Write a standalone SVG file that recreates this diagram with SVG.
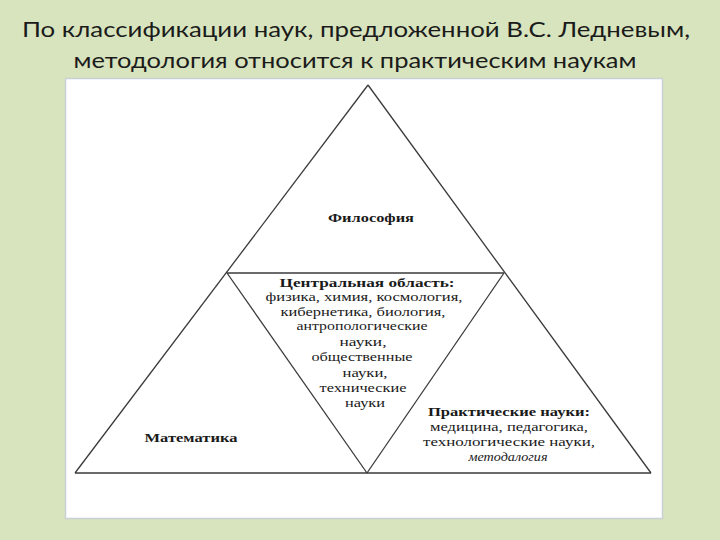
<svg xmlns="http://www.w3.org/2000/svg" width="720" height="540" viewBox="0 0 720 540">
<style>
.title{font-family:Lato,"Open Sans","Liberation Sans",sans-serif;font-size:22px;fill:#1b1b1b;text-anchor:middle}
.t{font-family:"Liberation Serif","DejaVu Serif",serif;font-size:13px;fill:#1a1a1a;text-anchor:middle}
.b{font-weight:bold}
.i{font-style:italic}
.edge{stroke:#3a3a3a;stroke-width:1.3;fill:none}
</style>
<rect x="0" y="0" width="720" height="540" fill="#d8e4bd"/>
<text class="title" x="356" y="37" textLength="668" lengthAdjust="spacingAndGlyphs">По классификации наук, предложенной В.С. Ледневым,</text>
<text class="title" x="355" y="68" textLength="563" lengthAdjust="spacingAndGlyphs">методология относится к практическим наукам</text>
<rect x="65.5" y="78.5" width="597" height="440" fill="#ffffff" stroke="#c8cfd6" stroke-width="1.5"/>
<g id="connectors">
<line class="edge" x1="368" y1="85" x2="75" y2="473"/>
<line class="edge" x1="368" y1="85" x2="651" y2="473"/>
<line class="edge" x1="75" y1="473" x2="651" y2="473"/>
<line class="edge" x1="227" y1="273" x2="504" y2="273" stroke="#1f1f1f"/>
<line class="edge" x1="227" y1="273" x2="367" y2="473"/>
<line class="edge" x1="504" y1="273" x2="367" y2="473"/>
</g>
<g id="philosophy">
<text class="t b" x="371" y="222" textLength="86" lengthAdjust="spacingAndGlyphs">Философия</text>
</g>
<g id="central">
<text class="t b" x="367" y="287" textLength="175" lengthAdjust="spacingAndGlyphs">Центральная область:</text>
<text class="t" x="364" y="301" textLength="197" lengthAdjust="spacingAndGlyphs">физика, химия, космология,</text>
<text class="t" x="363" y="316" textLength="165" lengthAdjust="spacingAndGlyphs">кибернетика, биология,</text>
<text class="t" x="362" y="330" textLength="131" lengthAdjust="spacingAndGlyphs">антропологические</text>
<text class="t" x="363" y="346" textLength="47" lengthAdjust="spacingAndGlyphs">науки,</text>
<text class="t" x="362" y="361" textLength="101" lengthAdjust="spacingAndGlyphs">общественные</text>
<text class="t" x="365" y="377" textLength="45" lengthAdjust="spacingAndGlyphs">науки,</text>
<text class="t" x="363" y="392" textLength="87" lengthAdjust="spacingAndGlyphs">технические</text>
<text class="t" x="365" y="407" textLength="40" lengthAdjust="spacingAndGlyphs">науки</text>
</g>
<g id="practical">
<text class="t b" x="509" y="416" textLength="162" lengthAdjust="spacingAndGlyphs">Практические науки:</text>
<text class="t" x="509" y="431" textLength="158" lengthAdjust="spacingAndGlyphs">медицина, педагогика,</text>
<text class="t" x="509" y="446" textLength="172" lengthAdjust="spacingAndGlyphs">технологические науки,</text>
<text class="t i" x="508" y="461" textLength="79" lengthAdjust="spacingAndGlyphs">методалогия</text>
</g>
<g id="mathematics">
<text class="t b" x="191" y="442" textLength="93" lengthAdjust="spacingAndGlyphs">Математика</text>
</g>
</svg>
